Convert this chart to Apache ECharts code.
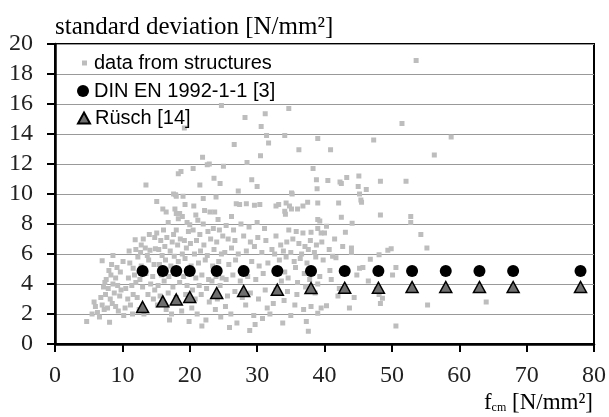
<!DOCTYPE html>
<html>
<head>
<meta charset="utf-8">
<script src="https://cdn.jsdelivr.net/npm/echarts@6/dist/echarts.min.js"></script>
<style>
  html, body { margin: 0; padding: 0; background: #fff; }
  #chart { width: 609px; height: 417px; }
</style>
</head>
<body>
<div id="chart"></div>
<script>
// fcm / standard deviation pairs
const structurePoints = [
  [4.7,1.5],[5.5,2.0],[6.3,2.1],[6.6,1.8],[7.3,2.3],[8.1,1.45],[6.0,2.5],[7.0,2.6],[7.8,2.4],[8.5,2.7],[9.4,2.2],[9.0,2.5],
  [6.8,3.1],[7.5,3.3],[8.2,3.0],[8.8,3.4],[9.6,3.2],[7.2,3.8],[7.9,3.7],[8.6,4.0],[9.3,3.9],[9.8,3.6],[7.0,5.55],[8.4,5.3],
  [8.6,5.9],[7.6,4.3],[8.3,4.6],[9.0,4.4],[9.7,4.8],[9.2,5.1],[8.0,4.9],[10.1,5.5],[7.4,4.1],[5.8,2.8],
  [10.4,2.4],[11.2,2.6],[12.5,2.3],[10.8,3.0],[11.6,3.3],[12.2,3.1],[13.8,3.3],[14.6,3.0],[10.5,3.7],[11.4,3.9],[12.0,4.1],
  [13.0,3.8],[14.2,4.0],[14.8,3.6],[10.9,4.4],[11.8,4.6],[12.6,4.3],[13.5,4.7],[14.5,4.5],[11.1,5.4],[11.6,5.05],[12.8,5.2],
  [13.9,5.6],[14.7,5.3],[11.0,6.2],[12.0,6.3],[12.7,6.1],[13.4,6.4],[14.1,6.25],[14.9,6.35],[11.9,6.95],[13.1,7.0],[12.8,6.6],
  [14.0,7.3],[14.8,7.1],[13.5,10.6],[15.1,9.5],[12.3,5.8],[13.7,5.9],[10.2,1.9],[11.5,2.0],[13.2,2.0],
  [15.2,2.6],[16.5,2.3],[17.3,2.0],[18.8,2.2],[15.6,3.2],[16.8,3.4],[18.0,3.1],[19.4,3.3],[15.3,3.9],[16.2,4.2],[17.5,3.8],
  [18.5,4.1],[19.6,3.9],[15.8,4.6],[16.9,4.5],[17.9,4.7],[19.1,4.5],[15.5,5.3],[16.4,5.6],[17.2,5.2],[18.3,5.5],[19.3,5.7],
  [15.9,5.9],[17.7,5.85],[18.9,6.0],[15.4,6.3],[16.3,6.5],[17.1,6.2],[18.2,6.6],[19.5,6.4],[15.7,6.9],[16.6,7.1],[17.4,6.8],
  [18.6,7.0],[19.2,6.9],[15.1,7.4],[16.1,7.6],[17.6,7.3],[18.0,7.6],[19.8,7.5],[16.0,9.0],[16.5,8.8],[17.8,9.0],[18.0,8.7],
  [18.5,8.7],[18.9,8.5],[18.3,8.35],[17.9,9.95],[17.6,10.0],[18.0,9.85],[19.3,9.3],[19.0,9.85],[18.7,11.5],[18.3,11.35],
  [19.2,14.4],[16.8,8.1],[19.6,8.1],[17.0,1.6],[19.9,1.5],
  [20.0,7.95],[21.2,8.25],[20.5,7.6],[22.0,8.0],[22.2,8.9],[23.0,8.8],[23.7,8.8],[20.6,9.2],[22.0,9.7],[23.9,9.8],[20.5,11.7],
  [21.9,12.45],[22.6,11.95],[22.9,12.0],[25.0,11.85],[23.6,11.05],[24.5,10.7],[21.5,10.6],[24.7,15.9],[20.3,2.4],[21.1,2.0],
  [22.4,1.6],[23.8,2.3],[24.6,1.8],[20.8,3.0],[21.7,3.3],[22.9,2.8],[24.1,3.0],[20.4,3.6],[21.4,3.9],[22.5,3.7],[23.3,4.2],
  [24.5,3.9],[20.9,4.4],[21.8,4.6],[22.8,4.3],[23.9,4.5],[24.8,4.4],[20.2,5.2],[21.3,5.4],[22.3,5.6],[23.4,5.2],[24.3,5.5],
  [20.7,6.0],[21.6,6.2],[22.6,5.9],[23.6,6.3],[24.7,6.0],[20.1,6.7],[21.0,6.9],[22.1,6.6],[23.1,7.0],[24.0,6.8],[24.9,7.2],
  [21.5,7.3],[22.7,7.5],[23.5,7.7],[24.4,7.6],[20.9,8.6],[24.2,8.3],[21.8,1.2],
  [26.2,8.5],[26.9,9.35],[27.4,9.3],[28.4,9.35],[29.6,9.25],[30.4,9.3],[26.6,13.3],[28.2,15.1],[28.5,12.1],[29.2,10.95],
  [30.0,10.5],[30.5,12.55],[30.6,14.5],[31.2,15.35],[31.4,13.9],[31.7,13.4],[25.3,2.5],[26.1,2.0],[27.0,1.4],[28.3,2.6],
  [29.5,1.9],[30.8,1.7],[31.5,2.4],[25.6,3.2],[26.7,3.5],[27.8,3.1],[29.0,3.4],[30.2,3.0],[31.2,3.6],[25.4,4.3],[26.4,4.6],
  [27.5,4.2],[28.6,4.5],[29.8,4.3],[30.9,4.7],[25.8,5.3],[26.8,5.6],[27.9,5.1],[29.2,5.5],[30.3,5.2],[31.6,5.4],[25.2,6.1],
  [26.2,6.4],[27.2,6.0],[28.4,6.2],[29.6,6.5],[30.7,6.1],[25.7,7.0],[26.7,6.9],[28.0,7.2],[29.0,6.8],[30.1,7.1],[31.3,6.9],
  [25.4,7.9],[26.5,7.6],[27.6,8.0],[28.8,7.8],[30.0,8.1],[31.1,7.7],[27.2,10.2],[25.9,1.1],[28.9,0.9],[29.7,1.3],[31.9,2.0],
  [32.8,9.2],
  [32.8,7.2],[34.7,7.6],[35.8,7.5],[36.8,7.4],[38.0,7.45],[39.5,7.4],[39.0,7.7],[40.0,7.4],[33.2,9.3],[34.3,9.4],[34.8,9.2],
  [34.1,8.85],[34.2,8.65],[35.1,9.0],[36.0,9.0],[36.8,9.2],[37.5,9.45],[39.0,9.4],[35.2,10.0],[38.9,10.35],[35.1,10.07],
  [39.0,8.3],[39.3,8.2],[40.3,7.85],[32.2,6.3],[32.6,6.0],[33.5,6.6],[34.4,6.8],[35.3,7.0],[36.2,6.7],[37.1,6.5],[37.9,6.9],
  [38.8,6.6],[39.6,6.8],[33.9,6.2],[35.0,6.1],[36.6,6.0],[37.6,6.3],[38.5,6.1],[33.3,5.6],[34.3,5.8],[35.5,5.5],[36.4,5.7],
  [37.4,5.4],[38.7,5.8],[39.8,5.6],[32.9,5.0],[34.1,4.8],[35.7,5.1],[37.0,4.7],[38.3,4.9],[39.3,4.5],[33.6,4.2],[34.6,4.4],
  [36.0,4.1],[37.8,4.3],[39.0,4.0],[32.8,3.6],[34.5,3.5],[35.9,3.3],[37.2,3.8],[38.6,3.4],[32.4,2.7],[34.0,2.9],[35.6,2.6],
  [36.9,2.3],[38.0,2.5],[39.5,2.4],[40.3,2.55],[39.0,2.05],[37.3,1.5],[37.6,0.85],[33.8,1.4],[35.0,1.9],[36.2,12.95],
  [38.3,11.7],[39.0,13.7],[34.1,13.9],[34.7,15.7],[38.8,10.95],
  [40.9,12.95],[40.5,10.9],[42.3,10.8],[43.3,11.1],[45.1,11.2],[48.3,10.85],[42.5,10.7],[45.0,10.5],[46.2,10.3],[45.2,10.0],
  [45.4,9.6],[42.1,9.4],[45.5,9.45],[47.3,13.6],[48.3,8.6],[42.5,8.45],[44.1,8.05],[43.1,7.45],[42.7,6.5],[44.0,6.4],
  [44.0,6.1],[48.1,5.95],[49.4,6.25],[49.9,6.35],[46.8,5.65],[41.2,5.85],[41.7,5.75],[45.2,5.05],[45.7,5.1],[50.1,4.6],
  [42.2,3.7],[42.0,3.2],[44.4,3.1],[47.7,3.65],[48.1,3.3],[48.6,3.05],[48.3,2.7],[43.7,2.4],[41.0,4.3],[40.7,6.3],[41.5,7.0],
  [40.8,4.9],[46.5,4.2],[44.8,4.6],
  [53.6,18.9],[51.5,14.7],[58.8,13.8],[56.3,12.6],[52.1,10.85],[52.8,8.5],[52.8,8.1],[54.3,7.3],[55.2,6.4],[50.6,5.1],
  [55.3,2.6],[64.0,2.8],[50.6,1.2]
];

const codeFcm = [13, 16, 18, 20, 24, 28, 33, 38, 43, 48, 53, 58, 63, 68, 78];
const dinSd = [4.87, 4.87, 4.87, 4.87, 4.87, 4.87, 4.87, 4.87, 4.87, 4.87, 4.87, 4.87, 4.87, 4.87, 4.87];
const ruschSd = [2.47, 2.84, 2.97, 3.13, 3.4, 3.53, 3.62, 3.73, 3.75, 3.75, 3.8, 3.8, 3.8, 3.8, 3.8];

const seriesNames = ['data from structures', 'DIN EN 1992-1-1 [3]', 'Rüsch [14]'];

const serif = 'Liberation Serif';
const sans = 'Liberation Sans';

let chartDom = document.getElementById('chart');
let myChart = echarts.init(chartDom, null, {renderer: 'canvas'});

const legendText = {fontFamily: sans, fontSize: 20, color: '#000'};

let option = {
    animation: false,
    backgroundColor: '#fff',
    title: {
        text: 'standard deviation [N/mm²]',
        left: 55,
        top: 15,
        padding: 0,
        textStyle: {fontFamily: serif, fontSize: 25, fontWeight: 'normal', color: '#000'}
    },
    legend: [
        {data: [seriesNames[0]], left: 82, top: 53, padding: 0, orient: 'vertical',
            icon: 'rect', itemWidth: 5, itemHeight: 5, textStyle: Object.assign({padding: [0, 0, 0, 2]}, legendText)},
        {data: [seriesNames[1]], left: 77, top: 81, padding: 0, orient: 'vertical',
            icon: 'circle', itemWidth: 12, itemHeight: 12, textStyle: legendText},
        {data: [seriesNames[2]], left: 77, top: 108, padding: 0, orient: 'vertical',
            icon: 'triangle', itemWidth: 12, itemHeight: 11, textStyle: legendText}
    ],
    grid: {left: 55, right: 14, top: 44, bottom: 73, show: true, borderColor: '#000', borderWidth: 2},
    xAxis: {
        type: 'value', min: 0, max: 80, interval: 10,
        axisLine: {onZero: false, lineStyle: {color: '#000', width: 2.5}},
        axisTick: {length: 8, lineStyle: {color: '#000', width: 2}},
        axisLabel: {fontFamily: serif, fontSize: 24, color: '#222', margin: 20},
        splitLine: {show: false}
    },
    yAxis: {
        type: 'value', min: 0, max: 20, interval: 2,
        axisLine: {show: true, onZero: false, lineStyle: {color: '#000', width: 2.5}},
        axisTick: {show: true, length: 8, lineStyle: {color: '#000', width: 2}},
        axisLabel: {fontFamily: serif, fontSize: 24, color: '#222', margin: 22},
        splitLine: {show: true, lineStyle: {color: '#999', width: 1.2}}
    },
    graphic: [{
        type: 'text',
        right: 16,
        top: 391,
        style: {
            text: '{f|f}{s|cm}{f| [N/mm²]}',
            fill: '#000',
            rich: {
                f: {fontFamily: serif, fontSize: 23, color: '#000'},
                s: {fontFamily: serif, fontSize: 12, color: '#000', verticalAlign: 'bottom', padding: [8, 0, 0, 0]}
            }
        }
    }],
    series: [
        {
            name: seriesNames[0], type: 'scatter', symbol: 'rect', symbolSize: 5,
            itemStyle: {color: '#bdbdbd', opacity: 1},
            data: structurePoints
        },
        {
            name: seriesNames[1], type: 'scatter', symbol: 'circle', symbolSize: 12,
            itemStyle: {color: '#000', opacity: 1},
            data: codeFcm.map((x, i) => [x, dinSd[i]])
        },
        {
            name: seriesNames[2], type: 'scatter', symbol: 'triangle', symbolSize: [12, 11],
            itemStyle: {color: '#6f6f6f', borderColor: '#000', borderWidth: 1.5, opacity: 1},
            data: codeFcm.map((x, i) => [x, ruschSd[i]])
        }
    ]
};

myChart.setOption(option);
window.addEventListener('resize', () => {
    myChart.resize()
})
</script>
</body>
</html>
